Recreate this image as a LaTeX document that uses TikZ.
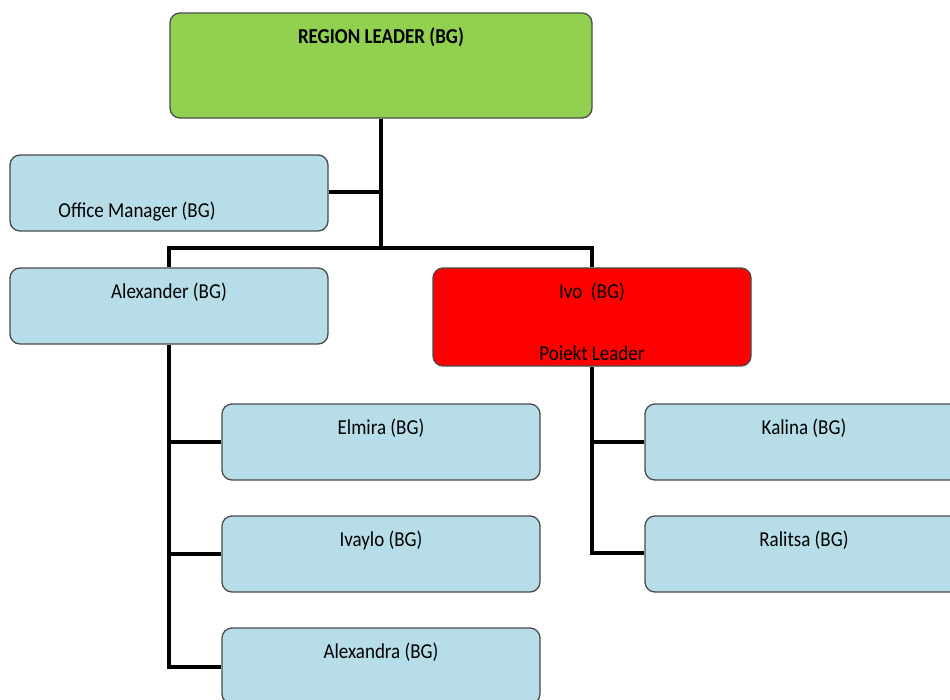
\documentclass[tikz,border=0pt]{standalone}
\usepackage{fontspec}
\setmainfont{Carlito}
\usetikzlibrary{backgrounds}
\definecolor{boxblue}{HTML}{B7DEE8}
\definecolor{boxgreen}{HTML}{92D050}
\definecolor{boxred}{HTML}{FF0000}
\definecolor{edgegray}{HTML}{4A4A4A}
\newcommand{\tallish}[1]{\scalebox{1}[1.12]{#1}}
\tikzset{
  orgbox/.style={draw=edgegray, line width=1.3pt, rounded corners=10pt, inner sep=0pt, fill=boxblue},
  std/.style={orgbox, minimum width=318pt, minimum height=76pt},
  lbl/.style={font=\fontsize{19}{21}\selectfont, inner sep=0pt, anchor=center},
  conn/.style={line width=4.5pt, black, line join=miter}
}
\begin{document}
\begin{tikzpicture}[x=1pt,y=-1pt]
\useasboundingbox (0,0) rectangle (950,699);
\clip (0,0) rectangle (950,699);
\node[orgbox, fill=boxgreen, minimum width=422pt, minimum height=105pt] (rl) at (381,65.5) {};
\node[std] (om) at (169,193) {};
\node[std] (al) at (169,306) {};
\node[orgbox, fill=boxred, minimum width=318pt, minimum height=98pt] (ivo) at (592,317) {};
\node[std] (el) at (381,442) {};
\node[std] (iv) at (381,554) {};
\node[std] (ax) at (381,666) {};
\node[std] (ka) at (804,442) {};
\node[std] (ra) at (804,554) {};
\coordinate (bus) at (381,248);
\coordinate (busl) at (169,248);
\coordinate (busr) at (592,248);
\coordinate (omj) at (381,192);
\coordinate (alb) at (169,667);
\coordinate (ivb) at (592,553);
\begin{scope}[on background layer]
\draw[conn] (rl.south) -- (bus);
\draw[conn] (om.east |- omj) -- (omj);
\draw[conn] (al.north) -- (busl) -- (busr) -- (ivo.north);
\draw[conn] (al.south) -- (alb) -- (ax.west |- alb);
\draw[conn] (el.west) -- (el.west -| al.south);
\draw[conn] (iv.west) -- (iv.west -| al.south);
\draw[conn] (ivo.south) -- (ivb) -- (ra.west |- ivb);
\draw[conn] (ka.west) -- (ka.west -| ivo.south);
\end{scope}
% labels
\node[lbl, font=\fontsize{19}{21}\selectfont\bfseries] (trl) at ([yshift=-25pt]rl.north) {\tallish{REGION LEADER (BG)}};
\node[lbl] (tom) at (137,212) {\tallish{Office Manager (BG)}};
\node[lbl] (tal) at (169,292) {\tallish{Alexander (BG)}};
\node[lbl] (tivo) at (592,292) {\tallish{Ivo\ \ (BG)}};
\node[lbl] (tivo2) at (592,353) {\tallish{Poiekt Leader}};
\node[lbl] (tel) at (381,428) {\tallish{Elmira (BG)}};
\node[lbl] (tiv) at (381,540) {\tallish{Ivaylo (BG)}};
\node[lbl] (tax) at (381,652) {\tallish{Alexandra (BG)}};
\node[lbl] (tka) at (804,428) {\tallish{Kalina (BG)}};
\node[lbl] (tra) at (804,540) {\tallish{Ralitsa (BG)}};
\end{tikzpicture}
\end{document}
